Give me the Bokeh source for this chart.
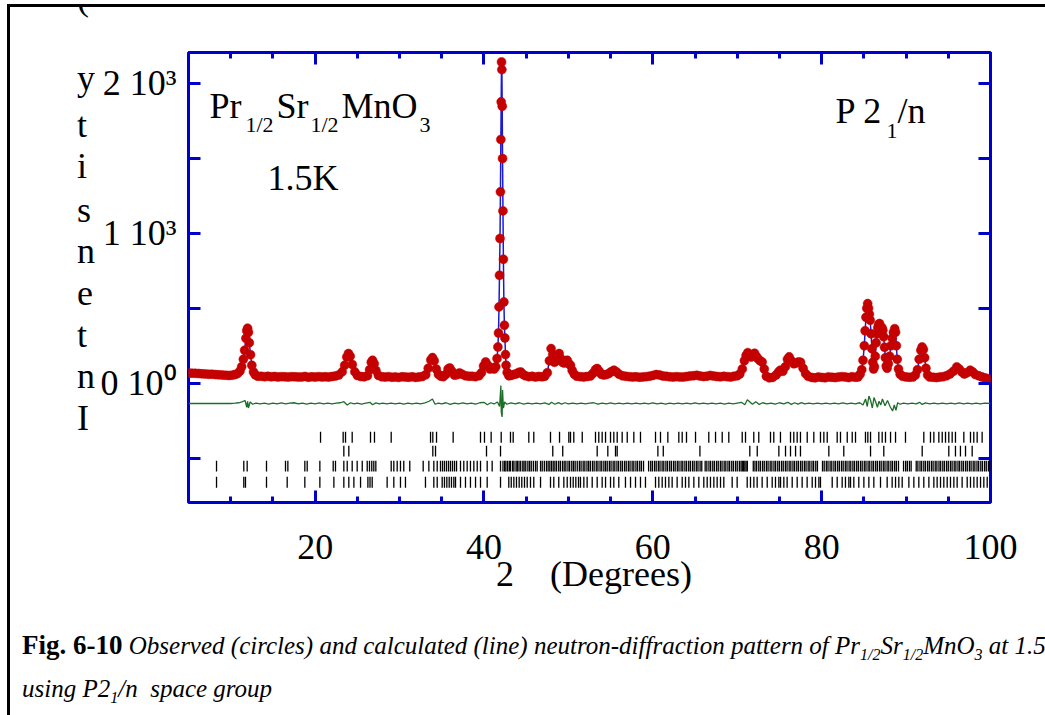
from bokeh.plotting import figure
from bokeh.models import Range1d, LinearAxis, FixedTicker, Label, Div
from bokeh.layouts import column, row
from bokeh.embed import file_html
from bokeh.resources import INLINE

try:
    from bokeh.models import GlobalInlineStyleSheet, InlineStyleSheet
except Exception:
    GlobalInlineStyleSheet = InlineStyleSheet = None

# ---------------- data ----------------
tth_obs = [5.0, 5.4, 5.8, 6.2, 6.6, 7.0, 7.4, 7.8, 8.2, 8.6, 9.0, 9.4, 9.8, 10.2, 10.5, 10.8, 11.1, 11.3, 11.5, 11.65,
           11.8, 11.9, 12.0, 12.1, 12.2, 12.35, 12.5, 12.7, 12.9, 13.2, 13.6, 14.0, 14.4, 14.8, 15.2, 15.6, 16.0, 16.4,
           16.8, 17.2, 17.6, 18.0, 18.4, 18.8, 19.2, 19.6, 20.0, 20.4, 20.8, 21.2, 21.6, 22.0, 22.4, 22.8, 23.2, 23.5,
           23.75, 23.95, 24.15, 24.4, 24.7, 25.0, 25.4, 25.8, 26.2, 26.45, 26.65, 26.8, 27.0, 27.2, 27.5, 27.9, 28.3,
           28.7, 29.1, 29.5, 29.9, 30.3, 30.7, 31.1, 31.5, 31.9, 32.3, 32.7, 33.1, 33.4, 33.7, 33.9, 34.1, 34.35, 34.6,
           34.9, 35.2, 35.5, 35.75, 35.95, 36.2, 36.5, 36.8, 37.1, 37.4, 37.8, 38.2, 38.6, 39.0, 39.4, 39.7, 39.95,
           40.2, 40.45, 40.7, 40.95, 41.2, 41.4, 41.55, 41.65, 41.72, 41.78, 41.84, 41.9, 41.95, 42.0, 42.04, 42.08,
           42.12, 42.16, 42.2, 42.25, 42.3, 42.36, 42.42, 42.48, 42.55, 42.62, 42.75, 42.95, 43.2, 43.5, 43.8, 44.1,
           44.35, 44.6, 44.9, 45.3, 45.7, 46.1, 46.5, 46.9, 47.2, 47.5, 47.75, 47.95, 48.15, 48.35, 48.55, 48.75, 48.9,
           49.1, 49.3, 49.5, 49.7, 49.86, 50.05, 50.25, 50.45, 50.7, 51.0, 51.4, 51.8, 52.2, 52.6, 52.9, 53.2, 53.4,
           53.65, 53.9, 54.2, 54.5, 54.8, 55.1, 55.4, 55.7, 56.0, 56.4, 56.8, 57.2, 57.6, 58.0, 58.4, 58.8, 59.2, 59.6,
           60.0, 60.4, 60.8, 61.2, 61.6, 62.0, 62.4, 62.8, 63.2, 63.6, 64.0, 64.4, 64.8, 65.2, 65.6, 66.0, 66.4, 66.8,
           67.2, 67.6, 68.0, 68.4, 68.8, 69.2, 69.6, 70.0, 70.3, 70.6, 70.85, 71.05, 71.25, 71.45, 71.65, 71.85, 72.05,
           72.25, 72.45, 72.7, 72.95, 73.2, 73.45, 73.8, 74.2, 74.6, 74.9, 75.1, 75.4, 75.7, 75.95, 76.15, 76.4, 76.7,
           77.0, 77.25, 77.5, 77.8, 78.1, 78.4, 78.8, 79.2, 79.6, 80.0, 80.4, 80.8, 81.2, 81.6, 82.0, 82.4, 82.8, 83.2,
           83.6, 84.0, 84.3, 84.55, 84.75, 84.9, 85.05, 85.15, 85.25, 85.35, 85.45, 85.55, 85.65, 85.75, 85.85, 85.95,
           86.05, 86.15, 86.25, 86.35, 86.45, 86.55, 86.65, 86.75, 86.85, 86.95, 87.05, 87.15, 87.25, 87.35, 87.45,
           87.55, 87.65, 87.75, 87.9, 88.05, 88.2, 88.35, 88.5, 88.65, 88.75, 88.85, 88.95, 89.1, 89.3, 89.6, 90.0,
           90.4, 90.8, 91.1, 91.35, 91.55, 91.75, 91.9, 92.05, 92.2, 92.35, 92.55, 92.8, 93.2, 93.6, 94.0, 94.4, 94.8,
           95.2, 95.6, 96.0, 96.3, 96.6, 96.9, 97.2, 97.6, 97.9, 98.2, 98.6, 99.0, 99.4, 99.7, 100.0]
i_obs = [68, 67, 66, 65, 63, 62, 60, 60, 58, 56, 55, 53, 52, 54, 58, 64, 82, 110, 160, 220,
         300, 350, 367, 340, 270, 190, 120, 75, 56, 47, 46, 44, 46, 43, 45, 42, 44, 43, 41,
         44, 43, 41, 42, 45, 40, 43, 41, 44, 42, 43, 41, 45, 48, 55, 76, 120, 175, 198, 180,
         125, 76, 52, 45, 43, 50, 90, 140, 153, 130, 85, 52, 43, 41, 44, 40, 42, 39, 43, 41,
         40, 43, 39, 42, 45, 57, 100, 155, 171, 150, 95, 60, 47, 44, 60, 95, 102, 80, 54, 57,
         69, 60, 50, 47, 46, 44, 50, 70, 115, 142, 120, 95, 100, 95, 110, 165, 242, 335, 509,
         720, 965, 1276, 1625, 1876, 2142, 2091, 1847, 1498, 1149, 827, 542, 387, 302, 191,
         120, 72, 50, 52, 58, 62, 72, 75, 60, 50, 44, 46, 42, 45, 43, 47, 70, 150, 231, 190,
         140, 150, 185, 198, 165, 140, 135, 150, 153, 130, 120, 85, 60, 47, 44, 42, 45, 48, 65,
         90, 98, 80, 60, 55, 58, 65, 78, 87, 75, 60, 50, 46, 44, 42, 43, 40, 42, 44, 47, 52, 58,
         55, 48, 46, 43, 41, 44, 42, 41, 45, 48, 50, 53, 48, 45, 47, 52, 48, 45, 43, 46, 44, 42,
         46, 50, 62, 95, 150, 185, 204, 190, 175, 185, 200, 180, 164, 150, 142, 95, 47, 36, 39,
         55, 75, 87, 80, 110, 160, 176, 150, 130, 135, 142, 140, 100, 64, 46, 39, 36, 41, 39,
         37, 42, 40, 38, 41, 44, 42, 38, 43, 40, 42, 60, 90, 153, 250, 350, 440, 500, 531, 500,
         460, 420, 330, 230, 140, 95, 110, 180, 270, 330, 370, 390, 398, 380, 360, 370, 353,
         310, 240, 170, 115, 100, 130, 180, 250, 300, 340, 364, 340, 250, 160, 95, 60, 46, 42,
         40, 42, 55, 90, 160, 220, 242, 225, 170, 100, 55, 42, 40, 38, 41, 44, 50, 62, 80, 109,
         95, 75, 62, 70, 87, 75, 58, 50, 42, 35, 28, 25]

tth_diff = [5, 6, 7, 8, 9, 10, 10.5, 11, 11.4, 11.7, 11.9, 12.0, 12.1, 12.3, 12.6, 13, 13.5, 14, 14.5, 15, 15.5,
            16, 16.5, 17, 17.5, 18, 18.5, 19, 19.5, 20, 20.5, 21, 21.5, 22, 22.5, 23, 23.4, 23.8, 24.2, 24.6, 25,
            25.5, 26, 26.5, 26.8, 27.2, 27.6, 28, 28.5, 29, 29.5, 30, 30.5, 31, 31.5, 32, 32.5, 33, 33.5, 33.9, 34.2,
            34.6, 35, 35.5, 36, 36.5, 37, 37.5, 38, 38.5, 39, 39.5, 40, 40.4, 40.8, 41.2, 41.6, 41.85, 42.0, 42.05,
            42.15, 42.2, 42.3, 42.45, 42.7, 43.2, 43.7, 44.2, 44.7, 45.2, 45.7, 46.2, 46.7, 47.2, 47.7, 48.0, 48.4,
            48.8, 49.2, 49.6, 50.0, 50.5, 51, 51.5, 52, 52.5, 53, 53.5, 54, 54.5, 55, 55.5, 56, 56.5, 57, 57.5, 58,
            58.5, 59, 59.5, 60, 60.5, 61, 61.5, 62, 62.5, 63, 63.5, 64, 64.5, 65, 65.5, 66, 66.5, 67, 67.5, 68, 68.5,
            69, 69.5, 70, 70.5, 70.9, 71.2, 71.5, 71.8, 72.2, 72.6, 73, 73.5, 74, 74.5, 75, 75.5, 76, 76.4, 76.8,
            77.2, 77.6, 78, 78.5, 79, 79.5, 80, 80.5, 81, 81.5, 82, 82.5, 83, 83.5, 84, 84.5, 84.9, 85.2, 85.4, 85.6,
            85.8, 86.0, 86.2, 86.4, 86.6, 86.8, 87.0, 87.2, 87.5, 87.8, 88.1, 88.4, 88.6, 88.8, 89.0, 89.3, 89.7,
            90.2, 90.7, 91.2, 91.6, 91.9, 92.3, 92.8, 93.3, 93.8, 94.3, 94.8, 95.3, 95.8, 96.3, 96.8, 97.3, 97.8,
            98.3, 98.8, 99.3, 100]
i_diff = [0, 0, 0, 0, 0, 0, 2, 5, 12, 20, -25, 15, -30, 10, -5, 3, -3, 2, -4, 3, -2,
          4, -3, 2, 5, -3, 2, -4, 3, -2, 4, -3, 2, -2, 3, 5, 12, -10, 5, -3, 2,
          -4, 3, 8, -8, 4, -2, 3, -3, 2, -2, 3, -4, 2, -3, 3, -2, 4, 15, 30, -5,
          3, -3, 5, -6, 3, -2, 4, -3, 2, -4, 5, 8, -8, 5, -3, 10, -20, 120, -60,
          -90, 90, -30, 10, -5, 4, -2, 5, -4, 2, -3, 3, -2, 4, -6, 8, -5,
          6, -4, 5, -3, 3, -2, 3, -3, 2, 5, -4, 3, -2, 4, -3, 2, -3, 3, -2, 2,
          -3, 3, -2, 4, -3, 2, -4, 3, -2, 3, -3, 2, -2, 4, -3, 2, -3, 3, -2, 2, -4,
          3, -2, 3, 8, -8, 25, 10, -5, 12, -6, 5, -3, 2, -4, 5, -3, 8, -6, 5,
          -4, 6, -3, 3, -2, 2, -3, 3, -2, 2, -3, 4, -2, 3, -3, 5, -10, 30, -20, 50,
          20, -30, 40, 10, -25, 15, -10, 30, -15, 20, -20, -50, -10, -45, 5, -5, 3,
          -2, 3, -3, 8, -6, 4, -2, 3, -3, 2, -2, 3, -3, 4, -2, 3, -2,
          2, -3, 2, 0]
diff_offset = -135

bragg_1 = [20.64, 23.32, 23.6, 24.39, 26.56, 27.03, 29.01, 33.67, 33.94, 34.38, 36.35, 39.59, 40.06, 40.85,
           42.04, 43.14, 43.46, 45.31, 45.9, 47.88, 48.95, 50.05, 50.25, 50.64, 51.64, 53.21, 53.6, 54.0, 54.4,
           54.99, 55.38, 55.78, 56.37, 56.97, 57.75, 58.54, 60.32, 60.91, 61.78, 63.08, 63.48, 63.99, 65.06, 66.63,
           67.43, 68.22, 69.0, 70.59, 70.98, 71.96, 72.55, 73.94, 74.33, 75.12, 76.31, 76.7, 77.1, 77.49, 78.29,
           79.07, 79.86, 80.26, 80.66, 81.84, 82.23, 83.03, 83.62, 84.01, 85.19, 85.47, 85.79, 86.77, 87.17, 87.56,
           88.16, 88.75, 89.93, 92.1, 92.89, 93.29, 93.88, 94.28, 94.67, 95.06, 95.46, 95.85, 96.84, 97.63, 98.02,
           98.42, 99.01]
bragg_2 = [23.4, 23.99, 33.94, 34.26, 40.3, 41.96, 48.15, 49.33, 53.41, 54.67, 55.58, 55.78, 60.6, 61.24, 65.58,
           71.49, 72.37, 74.93, 75.72, 76.31, 76.91, 77.49, 80.85, 82.62, 85.79, 87.36, 91.91, 95.06, 95.85, 96.44,
           97.04, 97.83]
bragg_3 = [8.32, 11.55, 11.95, 14.24, 16.49, 16.77, 18.78, 19.06, 20.56, 22.14, 22.41, 23.4, 23.8, 24.39, 24.98,
           25.58, 26.17, 26.44, 26.71, 26.95, 27.19, 29.01, 29.32, 29.72, 30.11, 30.5, 31.21, 32.8, 33.47, 34.06,
           34.46, 34.85, 35.09, 35.32, 35.56, 35.8, 36.03, 36.27, 36.51, 36.75, 37.22, 37.61, 38.01, 38.4, 38.8,
           39.2, 39.59, 40.38, 40.97, 41.96, 42.25, 42.45, 42.6, 42.8, 43.0, 43.15, 43.4, 43.55, 43.8, 43.95, 44.15,
           44.35, 44.6, 44.75, 44.95, 45.2, 45.4, 45.6, 45.85, 46.1, 46.3, 46.7, 46.9, 47.15, 47.4, 47.6, 47.8, 48.0,
           48.2, 48.4, 48.6, 48.85, 49.05, 49.3, 49.5, 49.7, 49.95, 50.15, 50.4, 50.6, 50.8, 51.05, 51.3, 51.5,
           51.75, 51.95, 52.2, 52.4, 52.6, 52.85, 53.05, 53.3, 53.5, 53.75, 53.95, 54.2, 54.4, 54.6, 54.85, 55.05,
           55.3, 55.5, 55.75, 55.95, 56.2, 56.4, 56.65, 56.85, 57.1, 57.3, 57.55, 57.75, 58.0, 58.2, 58.45, 58.65,
           58.9, 59.5, 59.75, 59.95, 60.2, 60.4, 60.65, 60.85, 61.1, 61.3, 61.55, 61.75, 62.0, 62.2, 62.45, 62.65,
           62.9, 63.1, 63.35, 63.55, 63.8, 64.0, 64.25, 64.45, 64.7, 64.9, 65.15, 65.35, 65.6, 65.8, 66.2, 66.4,
           66.65, 66.85, 67.1, 67.3, 67.55, 67.75, 68.0, 68.2, 68.45, 68.65, 68.9, 69.1, 69.35, 69.55, 69.8, 70.0,
           70.25, 70.45, 70.6, 70.75, 70.9, 71.05, 71.2, 71.9, 72.1, 72.3, 72.55, 72.75, 73.0, 73.2, 73.45, 73.65,
           73.9, 74.1, 74.35, 74.55, 74.8, 75.0, 75.25, 75.45, 75.7, 75.9, 76.15, 76.35, 76.6, 76.8, 77.05, 77.25,
           77.5, 77.7, 77.95, 78.15, 78.4, 78.6, 78.85, 79.05, 79.3, 79.5, 80.1, 80.3, 80.55, 80.75, 81.0, 81.2,
           81.45, 81.65, 81.9, 82.1, 82.35, 82.55, 82.8, 83.0, 83.25, 83.45, 83.7, 83.9, 84.15, 84.35, 84.6, 84.8,
           85.05, 85.25, 85.5, 85.7, 85.95, 86.15, 86.4, 86.6, 86.85, 87.05, 87.3, 87.5, 87.75, 87.95, 88.2, 88.4,
           88.65, 88.85, 89.1, 89.7, 89.95, 90.15, 90.4, 90.6, 91.2, 91.4, 91.65, 91.85, 92.1, 92.3, 92.55, 92.75,
           93.0, 93.2, 93.45, 93.65, 93.9, 94.1, 94.35, 94.55, 94.8, 95.0, 95.25, 95.45, 95.7, 95.9, 96.15, 96.35,
           96.6, 96.8, 97.05, 97.25, 97.5, 97.7, 97.95, 98.15, 98.4, 98.6, 98.85, 99.05, 99.3, 99.5, 99.75, 99.95]
bragg_4 = [8.32, 11.55, 11.75, 14.24, 16.69, 18.78, 20.56, 22.22, 23.4, 23.99, 24.59, 25.38, 26.25, 26.5, 26.76,
           28.53, 29.32, 30.11, 30.7, 33.07, 34.06, 34.46, 35.05, 35.32, 35.6, 35.88, 36.15, 36.43, 36.63, 37.22,
           37.81, 38.4, 39.0, 39.59, 40.38, 41.96, 42.94, 43.23, 43.54, 43.85, 44.17, 44.48, 44.8, 45.12, 45.51,
           45.9, 46.7, 47.88, 48.27, 48.86, 49.46, 49.86, 50.25, 50.57, 50.88, 51.2, 51.43, 51.83, 52.22, 52.82,
           53.41, 54.0, 54.4, 54.99, 55.38, 55.97, 56.76, 57.36, 57.95, 58.54, 59.13, 60.32, 60.71, 61.11, 61.5,
           61.9, 62.29, 62.88, 63.48, 63.87, 64.27, 64.86, 65.45, 66.04, 66.44, 66.83, 67.23, 67.62, 68.02, 68.41,
           69.4, 69.99, 71.18, 71.57, 71.97, 72.36, 72.95, 73.55, 74.14, 74.53, 74.93, 75.13, 75.52, 75.91, 76.51,
           77.1, 77.69, 78.28, 78.88, 79.27, 79.67, 79.86, 81.25, 81.84, 82.43, 82.82, 83.22, 83.42, 83.81, 84.4,
           85.0, 85.59, 86.18, 86.97, 87.76, 88.35, 88.75, 89.14, 89.54, 90.33, 90.92, 91.51, 92.1, 92.7, 93.29,
           93.68, 94.08, 94.47, 94.87, 95.26, 95.66, 96.05, 96.64, 97.24, 97.63, 98.03, 98.42, 98.82, 99.21, 99.61]
bragg_levels = [-360, -453, -553, -660]

x_major = [20, 40, 60, 80, 100]
x_minor = [10, 15, 25, 30, 35, 45, 50, 55, 65, 70, 75, 85, 90, 95]
y_labeled = [0, 1000, 2000]
y_unlabeled = [-500, 500, 1500]
y_tick_labels = {0: "0 10\u2070", 1000: "1 10\u00b3", 2000: "2 10\u00b3"}

# ---------------- styling / layout ----------------
BLUE = "#0000cc"
RED = "#c40000"
GREEN = "#1e6e2a"
FONT = "Liberation Serif"
XMIN, XMAX, YMIN, YMAX = 5, 100, -795, 2205
PAGE_W, PAGE_H = 1045, 715
TOP_H = 7            # strip holding the page's top rule
SIDE_W = 95          # strip on the left holding the stacked y title
FIG_H = 613
CAP_H = PAGE_H - TOP_H - FIG_H
FIG_W = PAGE_W - SIDE_W
# frame in page pixels: left 188, right 990, top 52, bottom 502
ML, MR, MT = 188 - SIDE_W, PAGE_W - 990, 52 - TOP_H
MB = FIG_H - MT - 450
FW, FH = FIG_W - ML - MR, FIG_H - MT - MB


def X(px):  # page x pixel -> data x
    return XMIN + (px - 188) * (XMAX - XMIN) / FW


def Y(py):  # page y pixel -> data y
    return YMAX - (py - 52) * (YMAX - YMIN) / FH


p = figure(width=FIG_W, height=FIG_H, x_range=Range1d(XMIN, XMAX), y_range=Range1d(YMIN, YMAX),
           output_backend="svg", toolbar_location=None,
           min_border_left=ML, min_border_right=MR, min_border_top=MT, min_border_bottom=MB)
p.grid.visible = False
p.background_fill_color = "white"
p.border_fill_color = "white"
p.outline_line_color = BLUE
p.outline_line_width = 3


def style_axis(ax, major, minor, major_len, minor_len, labels):
    ax.ticker = FixedTicker(ticks=major, minor_ticks=minor)
    ax.axis_line_color = None
    ax.major_tick_in = major_len
    ax.major_tick_out = 0
    ax.minor_tick_in = minor_len
    ax.minor_tick_out = 0
    ax.major_tick_line_color = BLUE
    ax.minor_tick_line_color = BLUE
    ax.major_tick_line_width = 3
    ax.minor_tick_line_width = 3
    ax.major_label_text_font = FONT
    ax.major_label_text_font_size = "36px"
    ax.major_label_text_color = "black"
    if not labels:
        ax.major_label_standoff = 0


xb = p.xaxis[0]
style_axis(xb, x_major, x_minor, 12, 6, True)
xb.major_label_standoff = 32
xb.axis_label = "\u00a02\u00a0\u00a0\u00a0 (Degrees)"
xb.axis_label_text_font = FONT
xb.axis_label_text_font_size = "36px"
xb.axis_label_text_font_style = "normal"
xb.axis_label_text_color = "black"
xb.axis_label_standoff = -8

yl = p.yaxis[0]
style_axis(yl, y_labeled, y_unlabeled, 12, 12, True)
yl.major_label_overrides = y_tick_labels
yl.major_label_standoff = 12

# top frame ticks: long ones at the labelled positions, short ones between
xt1 = LinearAxis()
style_axis(xt1, [], x_major, 0, 12, False)
p.add_layout(xt1, "above")
xt2 = LinearAxis()
style_axis(xt2, [], x_minor, 0, 6, False)
p.add_layout(xt2, "above")
yr = LinearAxis()
style_axis(yr, [], y_labeled + y_unlabeled, 0, 12, False)
p.add_layout(yr, "right")

# ---------------- marks ----------------
p.line(tth_obs, i_obs, line_color="#1a1ad6", line_width=1.5)
p.scatter(tth_obs, i_obs, size=9, fill_color=RED, line_color=RED, line_width=0.5)
p.line(tth_diff, [d + diff_offset for d in i_diff], line_color=GREEN, line_width=1.3)
half = 36
for rowpos, lev in zip([bragg_1, bragg_2, bragg_3, bragg_4], bragg_levels):
    p.segment(x0=rowpos, y0=[lev - half] * len(rowpos), x1=rowpos, y1=[lev + half] * len(rowpos),
              line_color="black", line_width=1.3)


def label(txt, px, py, size):
    p.add_layout(Label(x=X(px), y=Y(py), text=txt, text_font=FONT, text_font_size=f"{size}px",
                       text_align="left", text_baseline="alphabetic", text_color="black"))


label("Pr", 209, 105, 36)
label("1/2", 245, 124, 22)
label("Sr", 276, 105, 36)
label("1/2", 310, 124, 22)
label("MnO", 341, 105, 36)
label("3", 419, 124, 22)
label("1.5K", 267, 177, 36)
label("P 2", 835, 110, 36)
label("1", 886, 130, 22)
label("/n", 897, 110, 36)

# ---------------- texts outside the plot (HTML) ----------------
SERIF = 'font-family:"Liberation Serif","Times New Roman",serif;'
BASE = 0.8375  # baseline offset (em) of Liberation Serif with line-height 1
SUB = 'style="font-size:16px"'
DIV_STYLES = {"font-size": "0px", "line-height": "0px", "overflow": "hidden"}


def bar(left, top, w, h):
    return (f'<div style="position:absolute;left:{left}px;top:{top}px;width:{w}px;height:{h}px;'
            f'background:#000"></div>')


def txt(html, left, baseline, size):
    top = baseline - BASE * size
    return (f'<div style=\'position:absolute;left:{left}px;top:{top:.1f}px;'
            f'{SERIF}font-size:{size}px;line-height:1;white-space:nowrap;color:#000\'>{html}</div>')


def box(inner, w, h):
    return (f'<div style="position:relative;width:{w}px;height:{h}px;overflow:hidden;margin:0;padding:0;'
            f'background:#fff">{inner}</div>')


top_div = Div(text=box(bar(7, 4, PAGE_W - 7, 3), PAGE_W, TOP_H), width=PAGE_W, height=TOP_H,
              margin=(0, 0, 0, 0), styles=DIV_STYLES)

stack_chars = ["(", "y", "t", "i", "s", "n", "e", "t", "n", "I"]
stack_base = [10, 90, 137, 178, 222, 263, 305, 347, 388, 430]
side_inner = bar(7, 0, 3, FIG_H)
for ch, b in zip(stack_chars, stack_base):
    side_inner += txt(ch, 77, b - TOP_H, 36)
side_div = Div(text=box(side_inner, SIDE_W, FIG_H), width=SIDE_W, height=FIG_H, margin=(0, 0, 0, 0),
               styles=DIV_STYLES)

cap_y0 = TOP_H + FIG_H
cap_inner = bar(7, 0, 3, CAP_H)
cap_inner += txt(f'<b style="font-size:27px">Fig. 6-10</b> <i>Observed (circles) and calculated (line) '
                 f'neutron-diffraction pattern of Pr<sub {SUB}>1/2</sub>'
                 f'Sr<sub {SUB}>1/2</sub>MnO<sub {SUB}>3</sub> at 1.5</i>',
                 22, 653 - cap_y0, 25)
cap_inner += txt(f'<i>using P2<sub {SUB}>1</sub>/n&nbsp; space group</i>', 22, 697 - cap_y0, 25)
cap_div = Div(text=box(cap_inner, PAGE_W, CAP_H), width=PAGE_W, height=CAP_H, margin=(0, 0, 0, 0),
              styles=DIV_STYLES)

p.margin = (0, 0, 0, 0)
mid = row(side_div, p, spacing=0)
layout = column(top_div, mid, cap_div, spacing=0)

# hide any scrollbar that a browser may paint over the page
NO_SCROLL = (":host { overflow: hidden !important; scrollbar-width: none !important; } "
             "* { scrollbar-width: none !important; } "
             "::-webkit-scrollbar { display: none !important; width: 0 !important; height: 0 !important; }")
if InlineStyleSheet is not None:
    for m in (layout, mid, p, top_div, side_div, cap_div):
        m.stylesheets = [InlineStyleSheet(css=NO_SCROLL)]
if GlobalInlineStyleSheet is not None:
    layout.stylesheets = layout.stylesheets + [GlobalInlineStyleSheet(
        css="html, body { overflow: hidden !important; margin: 0; scrollbar-width: none !important; } "
            "::-webkit-scrollbar { display: none !important; width: 0 !important; height: 0 !important; }")]

open("out.html", "w").write(file_html(layout, INLINE))
